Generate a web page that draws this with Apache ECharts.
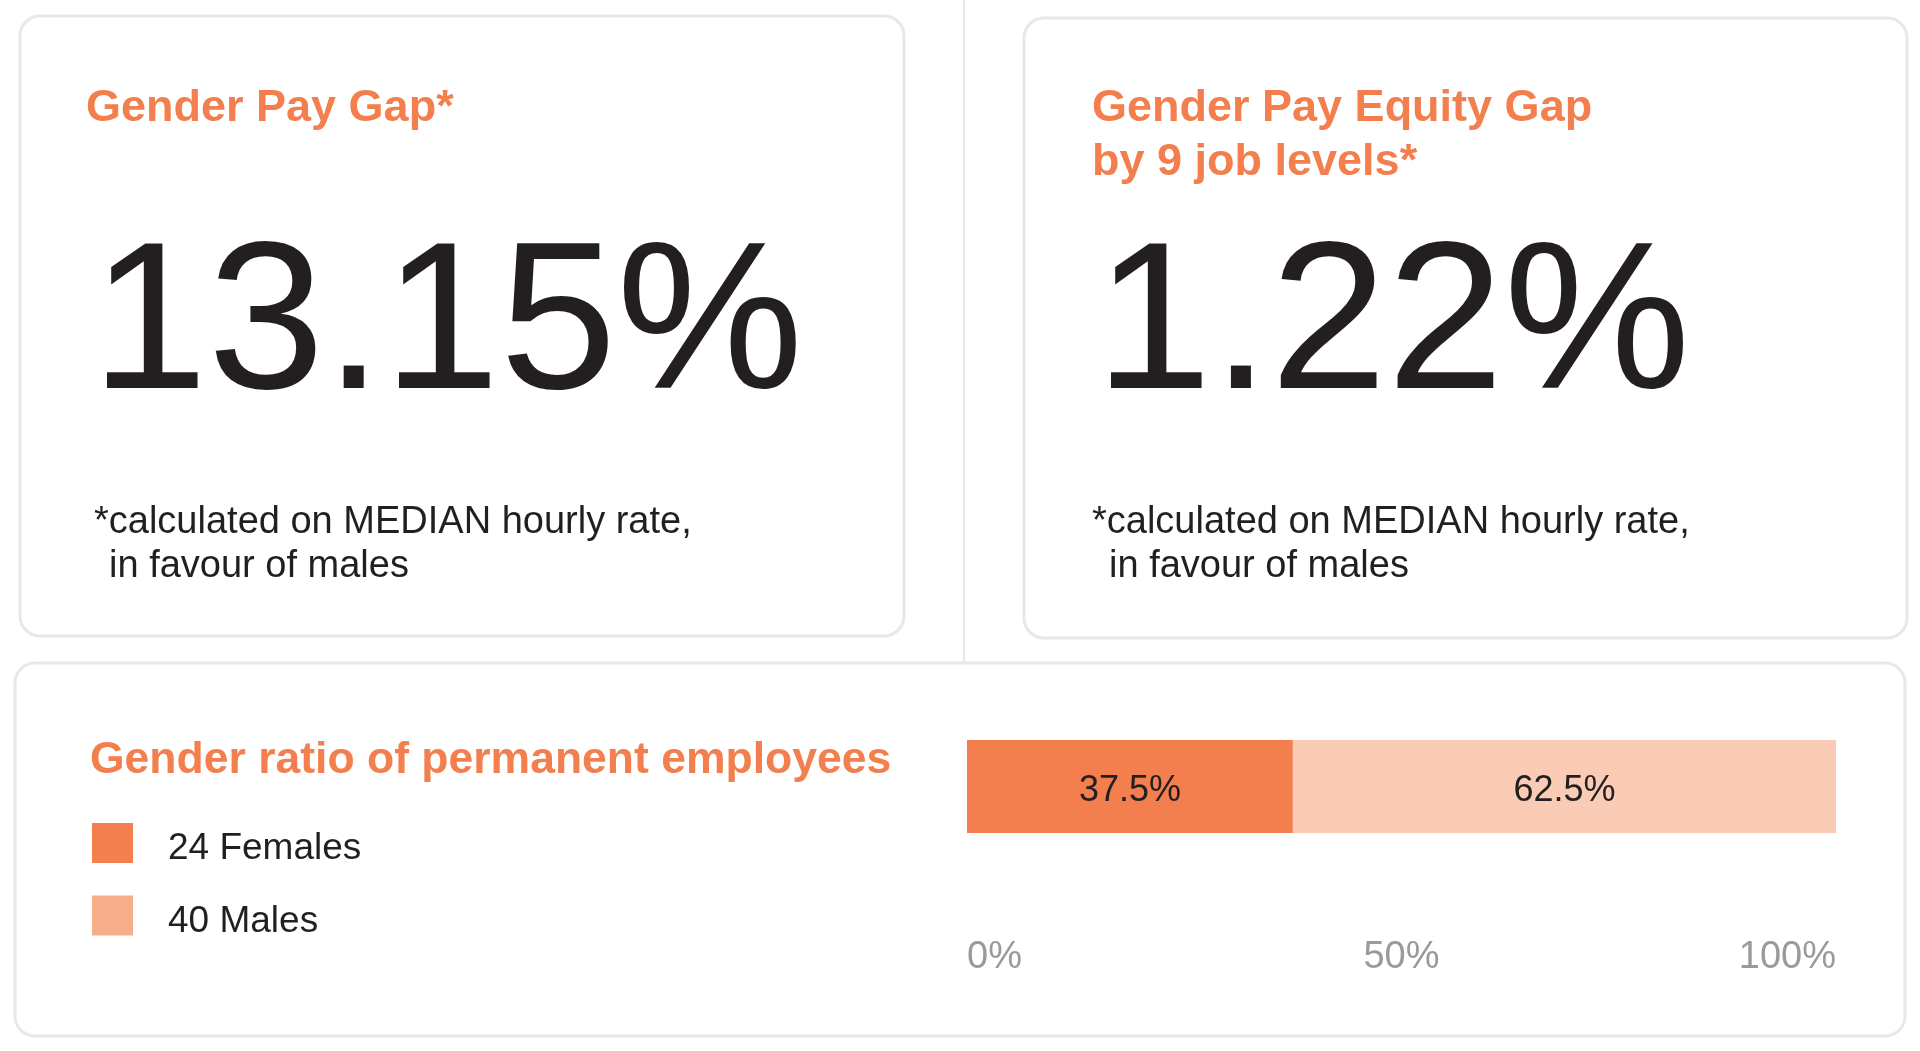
<!DOCTYPE html>
<html>
<head>
<meta charset="utf-8">
<title>Gender pay gap</title>
<script src="https://cdn.jsdelivr.net/npm/echarts@6/dist/echarts.min.js"></script>
<style>
    html, body {margin: 0; padding: 0; background: #fff;}
    #main {width: 1920px; height: 1051px;}
</style>
</head>
<body>
<div id="main"></div>
<script>
// headline cards
var cardTitles = [['Gender Pay Gap*'], ['Gender Pay Equity Gap', 'by 9 job levels*']];
var gapValues = [13.15, 1.22];
var footnote = ['*calculated on MEDIAN hourly rate,', 'in favour of males'];

// gender ratio bar
var ratioTitle = 'Gender ratio of permanent employees';
var genders = ['Females', 'Males'];
var counts = [24, 40];
var axisTicks = [0, 50, 100];

var orange = '#F27F4D';
var barColors = ['#F27F4D', '#FACBB5'];
var legendColors = ['#F27F4D', '#F6AD89'];
var ink = '#231F20';
var border = '#E8E8E8';
var font = '"Liberation Sans", Arial, Helvetica, sans-serif';

var chart = echarts.init(document.getElementById('main'));

var total = counts.reduce(function (a, b) { return a + b; }, 0);
var names = [];
for (var i = 0; i < genders.length; i++) {
    names.push(counts[i] + ' ' + genders[i]);
}

// cards + texts
var graphics = [
    {type: 'line', shape: {x1: 964, y1: 0, x2: 964, y2: 662}, style: {stroke: border, lineWidth: 2}, silent: true},
    {type: 'rect', shape: {x: 20, y: 16, width: 884, height: 620, r: 20}, style: {fill: '#fff', stroke: border, lineWidth: 3}, silent: true},
    {type: 'rect', shape: {x: 1024, y: 18, width: 883, height: 620, r: 20}, style: {fill: '#fff', stroke: border, lineWidth: 3}, silent: true},
    {type: 'rect', shape: {x: 15, y: 663, width: 1890, height: 373, r: 20}, style: {fill: '#fff', stroke: border, lineWidth: 3}, silent: true}
];

var cardLeft = [88, 1094];
var numLeft = [91, 1095];
for (var c = 0; c < 2; c++) {
    for (var l = 0; l < cardTitles[c].length; l++) {
        graphics.push({
            type: 'text', z: 10,
            style: {
                text: cardTitles[c][l], x: cardLeft[c] - 2, y: 109 + l * 54,
                font: 'bold 45px ' + font, fill: orange,
                textAlign: 'left', textVerticalAlign: 'middle'
            }
        });
    }
    graphics.push({
        type: 'text', z: 10,
        style: {
            text: gapValues[c].toFixed(2) + '%', x: numLeft[c], y: 330,
            font: 'normal 210px ' + font, fill: ink,
            textAlign: 'left', textVerticalAlign: 'middle'
        }
    });
    graphics.push({
        type: 'text', z: 10,
        style: {
            text: footnote[0], x: cardLeft[c] + (c ? -2 : 6), y: 523,
            font: 'normal 38px ' + font, fill: ink,
            textAlign: 'left', textVerticalAlign: 'middle'
        }
    });
    graphics.push({
        type: 'text', z: 10,
        style: {
            text: footnote[1], x: cardLeft[c] + (c ? 15 : 21), y: 567,
            font: 'normal 38px ' + font, fill: ink,
            textAlign: 'left', textVerticalAlign: 'middle'
        }
    });
}

graphics.push({
    type: 'text', z: 10,
    style: {
        text: ratioTitle, x: 90, y: 761,
        font: 'bold 44.5px ' + font, fill: orange,
        textAlign: 'left', textVerticalAlign: 'middle'
    }
});

var series = [];
for (var s = 0; s < genders.length; s++) {
    series.push({
        name: names[s],
        type: 'bar',
        stack: 'ratio',
        barWidth: '100%',
        itemStyle: {color: barColors[s]},
        label: {
            show: true,
            position: 'inside',
            offset: [0, 5],
            formatter: '{c}%',
            color: ink,
            fontSize: 36,
            fontFamily: font
        },
        data: [counts[s] / total * 100]
    });
}

var legendData = [];
for (var g = 0; g < names.length; g++) {
    legendData.push({name: names[g], itemStyle: {color: legendColors[g]}});
}

var option = {
    backgroundColor: '#fff',
    animation: false,
    textStyle: {fontFamily: font},
    graphic: graphics,
    legend: {
        orient: 'vertical',
        left: 92,
        top: 823,
        itemWidth: 41,
        itemHeight: 40,
        itemGap: 28,
        icon: 'rect',
        selectedMode: false,
        padding: 0,
        formatter: function (name) {
            return '{t|' + name + '}';
        },
        textStyle: {
            fontSize: 37,
            color: ink,
            fontFamily: font,
            rich: {
                t: {fontSize: 37, color: ink, fontFamily: font, padding: [12, 0, 0, 30]}
            }
        },
        data: legendData
    },
    tooltip: {show: false},
    grid: {
        left: 967,
        top: 740,
        width: 869,
        height: 93,
        containLabel: false
    },
    xAxis: {
        type: 'value',
        min: axisTicks[0],
        max: axisTicks[axisTicks.length - 1],
        interval: axisTicks[1] - axisTicks[0],
        axisLine: {show: false},
        axisTick: {show: false},
        splitLine: {show: false},
        axisLabel: {
            formatter: '{value}%',
            color: '#9A9A9A',
            fontSize: 38,
            fontFamily: font,
            margin: 106,
            alignMinLabel: 'left',
            alignMaxLabel: 'right'
        }
    },
    yAxis: {
        type: 'category',
        data: ['Employees'],
        show: false
    },
    series: series
};

chart.setOption(option);
</script>
</body>
</html>
